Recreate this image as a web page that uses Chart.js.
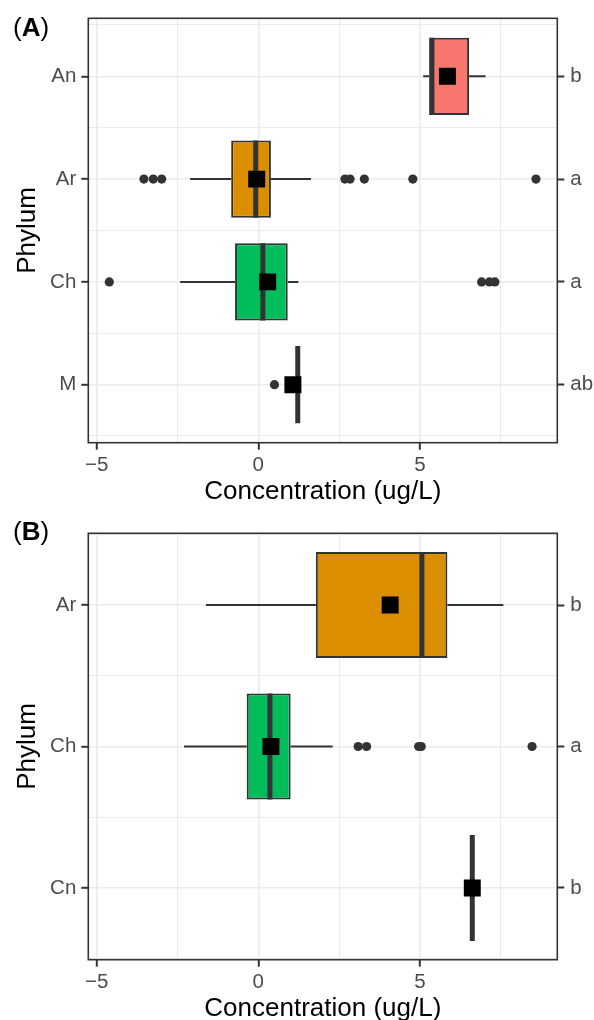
<!DOCTYPE html>
<html>
<head>
<meta charset="utf-8">
<script src="https://cdn.jsdelivr.net/npm/chart.js@4.4.1/dist/chart.umd.min.js"></script>
<style>
  html, body { margin: 0; padding: 0; background: #fff; overflow: hidden; }
  .panel { position: absolute; left: 0; width: 594px; }
  .tag { position: absolute; left: 13px; font: 26px 'Liberation Sans', Arial, sans-serif; line-height: 26px; color: #000; }
  canvas { display: block; }
</style>
</head>
<body>
<div class="panel" style="top:0;height:510px">
  <canvas id="chartA" width="594" height="510"></canvas>
  <div class="tag" style="top:14px">(<b>A</b>)</div>
</div>
<div class="panel" style="top:510px;height:517px">
  <canvas id="chartB" width="594" height="517"></canvas>
  <div class="tag" style="top:8px">(<b>B</b>)</div>
</div>
<script>
// Panel A: phylum summaries (top to bottom)
const catsA = ['An', 'Ar', 'Ch', 'M'];
const lettersA = ['b', 'a', 'a', 'ab'];
const fillA = ['#F8766D', '#DB8E00', '#00BD5C', '#64B200'];
const loA = [5.10, -2.11, -2.42, 1.22];
const q1A = [5.29, -0.84, -0.72, 1.22];
const medA = [5.37, -0.08, 0.14, 1.22];
const q3A = [6.52, 0.39, 0.91, 1.22];
const hiA = [7.03, 1.63, 1.24, 1.22];
const meanA = [5.85, -0.05, 0.29, 1.07];
const outA = [[], [-3.54, -3.25, -2.99, 2.68, 2.84, 3.28, 4.78, 8.59], [-4.61, 6.91, 7.15, 7.32], [0.50]];

// Panel B
const catsB = ['Ar', 'Ch', 'Cn'];
const lettersB = ['b', 'a', 'b'];
const fillB = ['#DB8E00', '#00BD5C', '#00BADE'];
const loB = [-1.62, -2.30, 6.62];
const q1B = [1.78, -0.36, 6.62];
const medB = [5.06, 0.36, 6.62];
const q3B = [5.85, 1.00, 6.62];
const hiB = [7.58, 2.30, 6.62];
const meanB = [4.08, 0.39, 6.62];
const outB = [[], [3.09, 3.35, 4.96, 5.04, 8.47], []];

const X_MIN = -5.26, X_MAX = 9.25;
const X_TICKS = [-5, -2.5, 0, 2.5, 5, 7.5];
const X_LABELED = [-5, 0, 5];
const BOX_WIDTH = 0.75;

const FONT = "'Liberation Sans', Arial, sans-serif";
const GRID = '#EBEBEB';
const DARK = '#333333';
const TICK_TEXT = '#4D4D4D';
const NONE = 'rgba(0,0,0,0)';

// panel.border like ggplot theme_bw
const panelBorder = {
  id: 'panelBorder',
  afterDraw(chart) {
    const { ctx, chartArea: a } = chart;
    ctx.save();
    ctx.strokeStyle = DARK;
    ctx.lineWidth = 1.6;
    ctx.strokeRect(a.left, a.top, a.right - a.left, a.bottom - a.top);
    ctx.restore();
  }
};

function fmtX(v) {
  return v < 0 ? '\u2212' + Math.abs(v) : String(v);
}

// tick value from a scriptable grid context (undefined for the scale-level context)
const tickVal = c => (c && c.tick ? c.tick.value : NaN);

function renderBoxplot(canvasId, p) {
  const n = p.cats.length;
  const yOf = i => n - 1 - i;
  const halfTicks = [];
  for (let k = 0; k <= 2 * n; k++) halfTicks.push(-0.5 + k * 0.5);
  const setHalfTicks = s => { s.ticks = halfTicks.map(v => ({ value: v })); };
  const isMajor = v => Number.isInteger(v);
  const xMajor = v => X_LABELED.includes(v);

  const datasets = [];

  // whiskers
  p.cats.forEach((c, i) => {
    datasets.push({
      type: 'line', order: 4,
      data: [{ x: p.lo[i], y: yOf(i) }, { x: p.q1[i], y: yOf(i) }],
      borderColor: DARK, borderWidth: 2, pointRadius: 0, tension: 0
    });
    datasets.push({
      type: 'line', order: 4,
      data: [{ x: p.q3[i], y: yOf(i) }, { x: p.hi[i], y: yOf(i) }],
      borderColor: DARK, borderWidth: 2, pointRadius: 0, tension: 0
    });
  });

  // boxes (q1..q3)
  datasets.push({
    type: 'bar', order: 3, indexAxis: 'y',
    data: p.cats.map((c, i) => ({ y: yOf(i), x: [p.q1[i], p.q3[i]] })),
    backgroundColor: p.fill,
    borderColor: DARK,
    borderWidth: 2,
    borderSkipped: false,
    grouped: false,
    categoryPercentage: 1,
    barPercentage: BOX_WIDTH / 0.5
  });

  // medians
  p.cats.forEach((c, i) => {
    datasets.push({
      type: 'line', order: 2,
      data: [{ x: p.med[i], y: yOf(i) - BOX_WIDTH / 2 }, { x: p.med[i], y: yOf(i) + BOX_WIDTH / 2 }],
      borderColor: DARK, borderWidth: 5, pointRadius: 0, tension: 0
    });
  });

  // outliers
  datasets.push({
    type: 'scatter', order: 1,
    data: p.out.flatMap((arr, i) => arr.map(v => ({ x: v, y: yOf(i) }))),
    backgroundColor: DARK, borderWidth: 0, pointRadius: 4.6
  });

  // means
  datasets.push({
    type: 'scatter', order: 0,
    data: p.mean.map((v, i) => ({ x: v, y: yOf(i) })),
    pointStyle: 'rect', backgroundColor: '#000000', borderWidth: 0, pointRadius: 12
  });

  const yCommon = {
    type: 'linear',
    offset: false,
    min: -p.pad,
    max: n - 1 + p.pad,
    afterBuildTicks: setHalfTicks,
    border: { display: false }
  };
  const yTickFont = { family: FONT, size: 20.5 };

  return new Chart(document.getElementById(canvasId), {
    type: 'bar',
    data: { datasets },
    plugins: [panelBorder],
    options: {
      responsive: false,
      animation: false,
      layout: { padding: { top: p.top, left: 0, right: 0, bottom: 0 } },
      plugins: { legend: { display: false }, tooltip: { enabled: false } },
      scales: {
        x: {
          type: 'linear',
          offset: false,
          min: X_MIN,
          max: X_MAX,
          afterBuildTicks: s => { s.ticks = X_TICKS.map(v => ({ value: v })); },
          border: { display: false },
          grid: {
            offset: false,
            color: GRID,
            lineWidth: c => xMajor(tickVal(c)) ? 1.6 : 1.1,
            tickColor: c => xMajor(tickVal(c)) ? DARK : NONE,
            tickLength: 7,
            tickWidth: 2
          },
          ticks: {
            autoSkip: false,
            maxRotation: 0,
            padding: 3,
            color: TICK_TEXT,
            font: yTickFont,
            callback: v => xMajor(v) ? fmtX(v) : ''
          },
          title: {
            display: true,
            text: 'Concentration (ug/L)',
            color: '#000',
            font: { family: FONT, size: 26 },
            padding: { top: 0, bottom: 3 }
          },
          afterFit: s => { s.height = 67.3; }
        },
        y: {
          ...yCommon,
          position: 'left',
          grid: {
            offset: false,
            color: GRID,
            lineWidth: c => isMajor(tickVal(c)) ? 1.6 : 1.1,
            tickColor: c => isMajor(tickVal(c)) ? DARK : NONE,
            tickLength: 7,
            tickWidth: 2
          },
          ticks: {
            autoSkip: false,
            padding: 5,
            color: TICK_TEXT,
            font: yTickFont,
            callback: v => isMajor(v) ? p.cats[n - 1 - v] : ''
          },
          title: {
            display: true,
            text: 'Phylum',
            color: '#000',
            font: { family: FONT, size: 26 },
            padding: { top: 12, bottom: 0 }
          },
          afterFit: s => { s.width = 88.3; }
        },
        y2: {
          ...yCommon,
          position: 'right',
          grid: {
            offset: false,
            drawOnChartArea: false,
            tickColor: c => isMajor(tickVal(c)) ? DARK : NONE,
            tickLength: 7,
            tickWidth: 2
          },
          ticks: {
            autoSkip: false,
            padding: 6,
            color: TICK_TEXT,
            font: yTickFont,
            callback: v => isMajor(v) ? p.letters[n - 1 - v] : ''
          },
          afterFit: s => { s.width = 594 - 557.3; }
        }
      }
    }
  });
}

renderBoxplot('chartA', {
  cats: catsA, letters: lettersA, fill: fillA,
  lo: loA, q1: q1A, med: medA, q3: q3A, hi: hiA, mean: meanA, out: outA,
  pad: 0.565, top: 16
});

renderBoxplot('chartB', {
  cats: catsB, letters: lettersB, fill: fillB,
  lo: loB, q1: q1B, med: medB, q3: q3B, hi: hiB, mean: meanB, out: outB,
  pad: 0.507, top: 23.3
});
</script>
</body>
</html>
